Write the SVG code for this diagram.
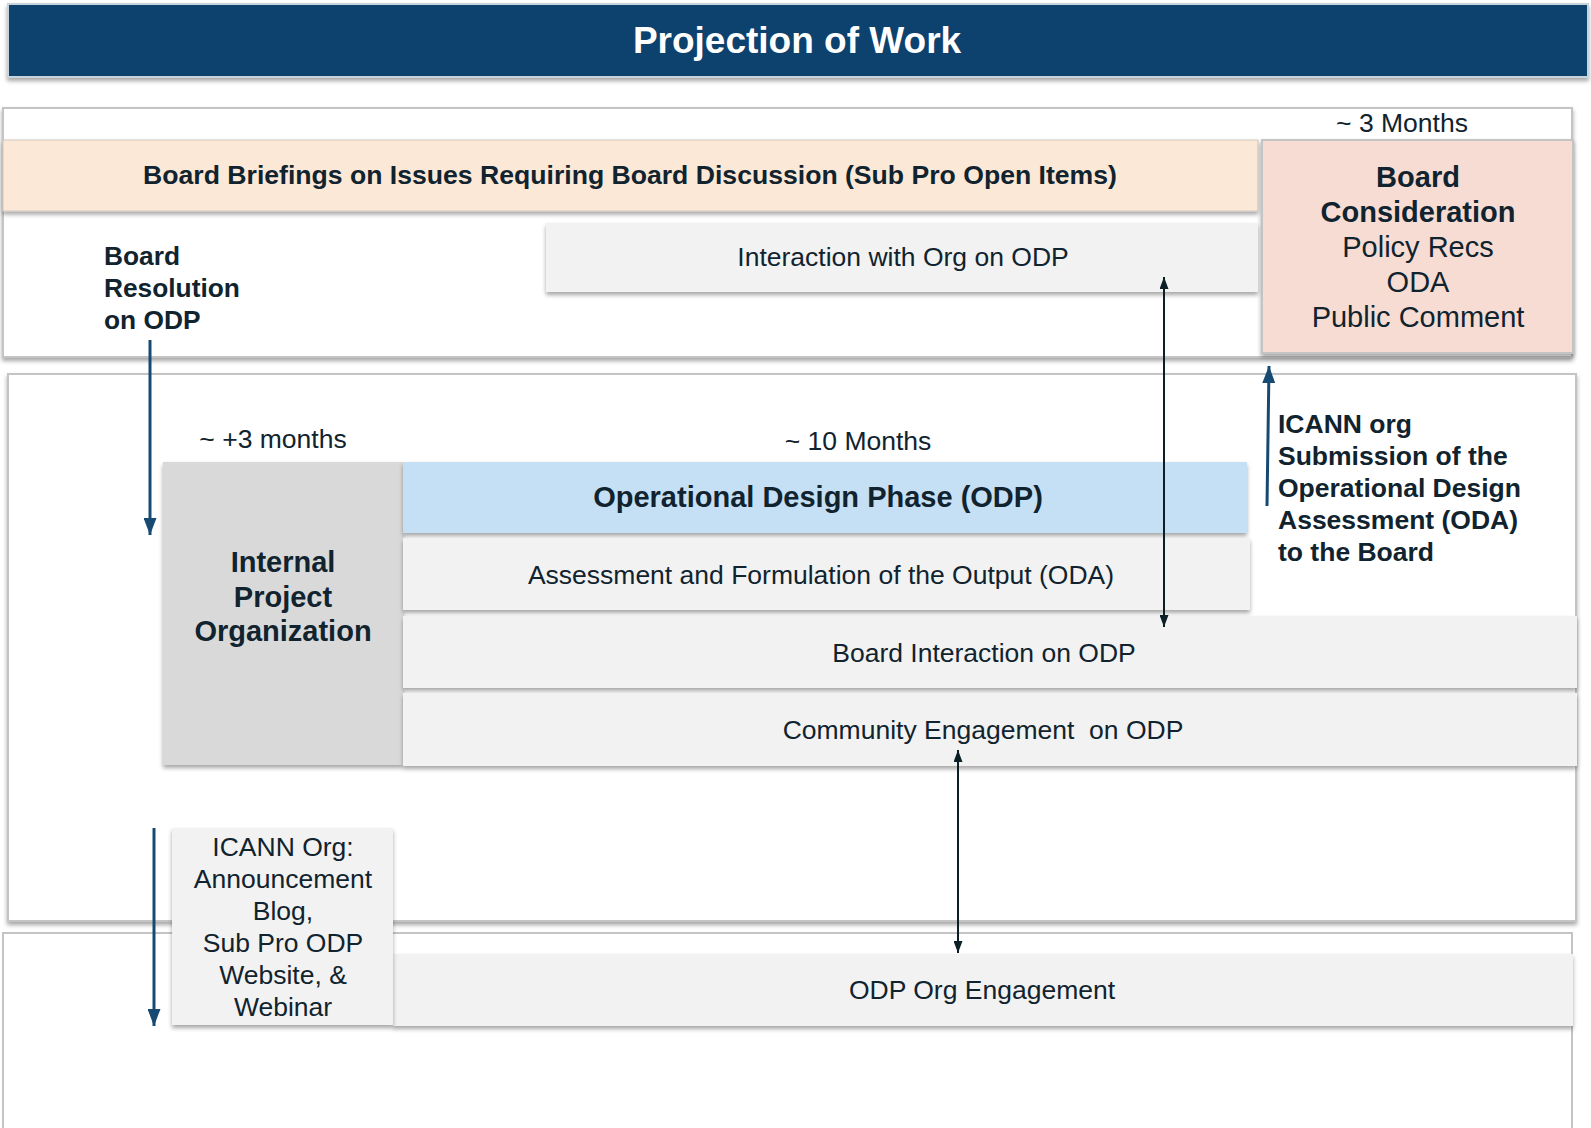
<svg xmlns="http://www.w3.org/2000/svg" width="1591" height="1128" viewBox="0 0 1591 1128">
<defs>
  <filter id="sh" x="-5%" y="-20%" width="110%" height="150%">
    <feDropShadow dx="0" dy="3" stdDeviation="2" flood-color="#000" flood-opacity="0.35"/>
  </filter>
  <marker id="ab" viewBox="0 0 17 13" refX="17" refY="6.5" markerWidth="17" markerHeight="13" markerUnits="userSpaceOnUse" orient="auto">
    <path d="M0,0 L17,6.5 L0,13 Z" fill="#174a73"/>
  </marker>
  <marker id="ak" viewBox="0 0 12 9" refX="12" refY="4.5" markerWidth="12" markerHeight="9" markerUnits="userSpaceOnUse" orient="auto-start-reverse">
    <path d="M0,0 L12,4.5 L0,9 Z" fill="#0d1f26"/>
  </marker>
  <style>
    text { font-family: "Liberation Sans", Arial, sans-serif; fill: #10232e; }
    .b { font-weight: bold; }
    .r { font-size: 26.5px; }
    .m { font-size: 29px; }
    .sec { fill: #ffffff; stroke: #c4c4c4; stroke-width: 2; }
    .bar { fill: #f2f2f2; }
    .c { text-anchor: middle; }
  </style>
</defs>

<g id="title">
  <rect x="8" y="4" width="1580" height="73" fill="#0f436e" stroke="#c9d3dc" stroke-width="2" filter="url(#sh)"/>
  <text x="797" y="53" class="b c" style="font-size:37px;fill:#ffffff">Projection of Work</text>
</g>

<g id="section-top">
  <rect x="3" y="108" width="1569" height="249" class="sec" filter="url(#sh)"/>
  <text x="1402" y="132" class="r c">~ 3 Months</text>
</g>

<g id="section-middle">
  <rect x="8" y="374" width="1568" height="547" class="sec" filter="url(#sh)"/>
  <text x="273" y="448" class="r c">~ +3 months</text>
  <text x="858" y="450" class="r c">~ 10 Months</text>
</g>

<g id="section-bottom">
  <rect x="3" y="933" width="1569" height="200" class="sec"/>
</g>

<g id="board-briefings">
  <rect x="3" y="140" width="1255" height="71" fill="#fce8d6" stroke="#d0c8c0" stroke-width="1" filter="url(#sh)"/>
  <text x="630" y="184" class="b c" style="font-size:26.6px">Board Briefings on Issues Requiring Board Discussion (Sub Pro Open Items)</text>
</g>

<g id="board-consideration">
  <rect x="1262" y="140" width="311" height="213" fill="#f7dcd3" stroke="#c4c4c4" stroke-width="2" filter="url(#sh)"/>
  <text x="1418" y="187" class="b m c">Board</text>
  <text x="1418" y="222" class="b m c">Consideration</text>
  <text x="1418" y="257" class="m c">Policy Recs</text>
  <text x="1418" y="292" class="m c">ODA</text>
  <text x="1418" y="327" class="m c">Public Comment</text>
</g>

<g id="interaction-org">
  <rect x="546" y="223" width="712" height="69" class="bar" filter="url(#sh)"/>
  <text x="903" y="266" class="r c">Interaction with Org on ODP</text>
</g>

<g id="board-resolution">
  <text x="104" y="265" class="b" style="font-size:26.3px">Board</text>
  <text x="104" y="297" class="b" style="font-size:26.3px">Resolution</text>
  <text x="104" y="329" class="b" style="font-size:26.3px">on ODP</text>
</g>

<g id="internal-project">
  <rect x="163" y="462" width="240" height="303" fill="#d9d9d9" filter="url(#sh)"/>
  <text x="283" y="572" class="b m c">Internal</text>
  <text x="283" y="607" class="b m c">Project</text>
  <text x="283" y="641" class="b m c">Organization</text>
</g>

<g id="odp">
  <rect x="403" y="462" width="844" height="71" fill="#c5dff5" filter="url(#sh)"/>
  <text x="818" y="507" class="b m c">Operational Design Phase (ODP)</text>
</g>

<g id="assessment">
  <rect x="403" y="538" width="847" height="72" class="bar" filter="url(#sh)"/>
  <text x="821" y="584" class="r c">Assessment and Formulation of the Output (ODA)</text>
</g>

<g id="board-interaction">
  <rect x="403" y="616" width="1174" height="72" class="bar" filter="url(#sh)"/>
  <text x="984" y="662" class="r c">Board Interaction on ODP</text>
</g>

<g id="community-engagement">
  <rect x="403" y="693" width="1174" height="73" class="bar" filter="url(#sh)"/>
  <text x="983" y="739" class="r c" xml:space="preserve">Community Engagement  on ODP</text>
</g>

<g id="icann-submission">
  <text x="1278" y="433" class="b r">ICANN org</text>
  <text x="1278" y="465" class="b r">Submission of the</text>
  <text x="1278" y="497" class="b r">Operational Design</text>
  <text x="1278" y="529" class="b r">Assessment (ODA)</text>
  <text x="1278" y="561" class="b r">to the Board</text>
</g>

<g id="odp-org-engagement">
  <rect x="393" y="954" width="1180" height="72" class="bar" filter="url(#sh)"/>
  <text x="982" y="999" class="r c">ODP Org Engagement</text>
</g>

<g id="icann-announcement">
  <rect x="172" y="828" width="221" height="197" class="bar" filter="url(#sh)"/>
  <text x="283" y="856" class="r c">ICANN Org:</text>
  <text x="283" y="888" class="r c">Announcement</text>
  <text x="283" y="920" class="r c">Blog,</text>
  <text x="283" y="952" class="r c">Sub Pro ODP</text>
  <text x="283" y="984" class="r c">Website, &amp;</text>
  <text x="283" y="1016" class="r c">Webinar</text>
</g>

<g id="connectors" fill="none">
  <line x1="150" y1="340" x2="150" y2="535" stroke="#174a73" stroke-width="3" marker-end="url(#ab)"/>
  <line x1="154" y1="828" x2="154" y2="1026" stroke="#174a73" stroke-width="3" marker-end="url(#ab)"/>
  <line x1="1267" y1="506" x2="1269" y2="366" stroke="#174a73" stroke-width="3" marker-end="url(#ab)"/>
  <line x1="1164" y1="277" x2="1164" y2="627" stroke="#0d1f26" stroke-width="2" marker-start="url(#ak)" marker-end="url(#ak)"/>
  <line x1="958" y1="750" x2="958" y2="953" stroke="#0d1f26" stroke-width="2" marker-start="url(#ak)" marker-end="url(#ak)"/>
</g>
</svg>
